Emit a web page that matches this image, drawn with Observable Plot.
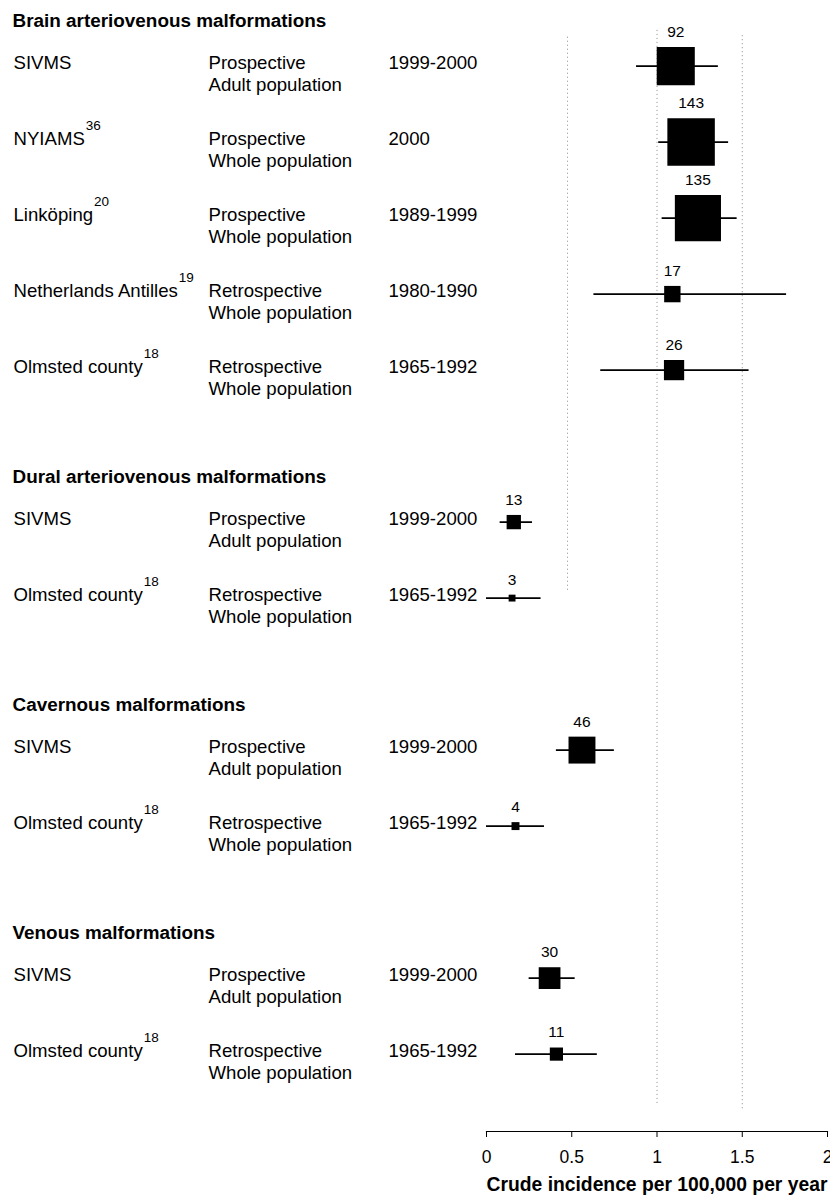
<!DOCTYPE html>
<html>
<head>
<meta charset="utf-8">
<script src="https://cdn.jsdelivr.net/npm/d3@7"></script>
<script src="https://cdn.jsdelivr.net/npm/@observablehq/plot@0.6"></script>
<style>
  html, body { margin: 0; padding: 0; background: #fff; }
  #chart svg { display: block; }
</style>
</head>
<body>
<div id="chart"></div>
<script>
// ---- data ----
const groups = [
  "Brain arteriovenous malformations",
  "Dural arteriovenous malformations",
  "Cavernous malformations",
  "Venous malformations"
];
const groupOf = [0, 0, 0, 0, 0, 1, 1, 2, 2, 3, 3];
const study = ["SIVMS", "NYIAMS", "Linköping", "Netherlands Antilles", "Olmsted county",
               "SIVMS", "Olmsted county", "SIVMS", "Olmsted county", "SIVMS", "Olmsted county"];
const refs = ["", "36", "20", "19", "18", "", "18", "", "18", "", "18"];
const design = ["Prospective", "Prospective", "Prospective", "Retrospective", "Retrospective",
                "Prospective", "Retrospective", "Prospective", "Retrospective", "Prospective", "Retrospective"];
const population = ["Adult population", "Whole population", "Whole population", "Whole population", "Whole population",
                    "Adult population", "Whole population", "Adult population", "Whole population", "Adult population", "Whole population"];
const period = ["1999-2000", "2000", "1989-1999", "1980-1990", "1965-1992",
                "1999-2000", "1965-1992", "1999-2000", "1965-1992", "1999-2000", "1965-1992"];
const cases = [92, 143, 135, 17, 26, 13, 3, 46, 4, 30, 11];
const incidence = [1.11, 1.20, 1.24, 1.09, 1.10, 0.16, 0.15, 0.56, 0.17, 0.37, 0.41];
const lower = [0.88, 1.01, 1.03, 0.63, 0.67, 0.08, 0.00, 0.41, 0.00, 0.25, 0.17];
const upper = [1.36, 1.42, 1.47, 1.76, 1.54, 0.27, 0.32, 0.75, 0.34, 0.52, 0.65];
const xTicks = [0, 0.5, 1, 1.5, 2];
const refLineX = [0.475, 1, 1.5];
const xTitle = "Crude incidence per 100,000 per year";

// ---- layout (row slots) ----
const headerU = [];
const rowU = [];
{
  let u = 0;
  groups.forEach((g, gi) => {
    headerU.push(u);
    u += 0.6;
    groupOf.forEach((k, i) => { if (k === gi) { rowU.push(u); u += 1; } });
    u += 0.4;
  });
}
const refLineY1 = [0.22, 0.13, 0.2];
const refLineY2 = [7.5, 14.28, 14.35];

const rows = study.map((s, i) => ({
  study: s, ref: refs[i], design: design[i], population: population[i], period: period[i],
  n: cases[i], est: incidence[i], lo: lower[i], hi: upper[i], u: rowU[i]
}));
const headers = groups.map((g, i) => ({ g, u: headerU[i] }));
const refLines = refLineX.map((x, i) => ({ x, y1: refLineY1[i], y2: refLineY2[i] }));

const W = 830, H = 1200, ML = 486, MR = 3, MB = 69;
const font = "'Liberation Sans', Arial, Helvetica, sans-serif";
const sideK = 3.97; // square side per sqrt(case)
const FS = 18.6;

const chart = Plot.plot({
  width: W,
  height: H,
  marginLeft: ML,
  marginRight: MR,
  marginTop: 0,
  marginBottom: MB,
  style: { fontFamily: font, color: "black", background: "white", overflow: "visible" },
  x: { domain: [0, 2] },
  y: { domain: [-20 / 76, 1111 / 76], reverse: true, axis: null },
  r: { type: "sqrt", domain: [0, 143], range: [0, sideK * Math.sqrt(143) / Math.sqrt(Math.PI)] },
  marks: [
    Plot.ruleX(refLines, { x: "x", y1: "y1", y2: "y2", stroke: "#8a8a8a", strokeWidth: 1, strokeDasharray: "1,3" }),
    Plot.ruleY(rows, { y: "u", x1: "lo", x2: "hi", stroke: "black", strokeWidth: 1.7 }),
    Plot.dot(rows, { x: "est", y: "u", r: "n", symbol: "square", fill: "black", stroke: "none" }),
    ...rows.map(d => Plot.text([d], {
      x: "est", y: "u", text: d => String(d.n), fontSize: 15.5,
      dy: -(sideK * Math.sqrt(d.n) / 2 + 15)
    })),
    Plot.text(headers, { y: "u", text: "g", frameAnchor: "left", dx: 12 - ML, textAnchor: "start", fontWeight: "bold", fontSize: 18.9 }),
    Plot.text(rows, { y: "u", text: "study", frameAnchor: "left", dx: 13 - ML, dy: -3, textAnchor: "start", fontSize: FS }),
    Plot.text(rows, { y: "u", text: "design", frameAnchor: "left", dx: 208 - ML, dy: -3, textAnchor: "start", fontSize: FS }),
    Plot.text(rows, { y: "u", text: "population", frameAnchor: "left", dx: 208 - ML, dy: 19, textAnchor: "start", fontSize: FS }),
    Plot.text(rows, { y: "u", text: "period", frameAnchor: "left", dx: 388 - ML, dy: -3, textAnchor: "start", fontSize: FS }),
    Plot.frame({ anchor: "bottom", stroke: "black", strokeWidth: 1.2 }),
    Plot.axisX({ ticks: xTicks, tickFormat: d => String(d), tickSize: 6, tickPadding: 13, fontSize: 17.5, label: null }),
    Plot.text([xTitle], { frameAnchor: "bottom", dy: 59, fontWeight: "bold", fontSize: 19.3 })
  ]
});

// superscript reference numbers after study names
{
  let nameTexts = null;
  chart.querySelectorAll("g").forEach(g => {
    const t = Array.from(g.children).filter(c => c.tagName.toLowerCase() === "text");
    if (!nameTexts && t.length === study.length && t[1].textContent === study[1] && t[3].textContent === study[3]) nameTexts = t;
  });
  if (nameTexts) {
    nameTexts.forEach((t, k) => {
      const r = refs[k];
      if (r) {
        const ts = document.createElementNS("http://www.w3.org/2000/svg", "tspan");
        ts.setAttribute("font-size", "13.5");
        ts.setAttribute("dy", "-1.1em");
        ts.setAttribute("dx", "1");
        ts.textContent = r;
        t.appendChild(ts);
      }
    });
  }
}

document.getElementById("chart").appendChild(chart);
</script>
</body>
</html>
